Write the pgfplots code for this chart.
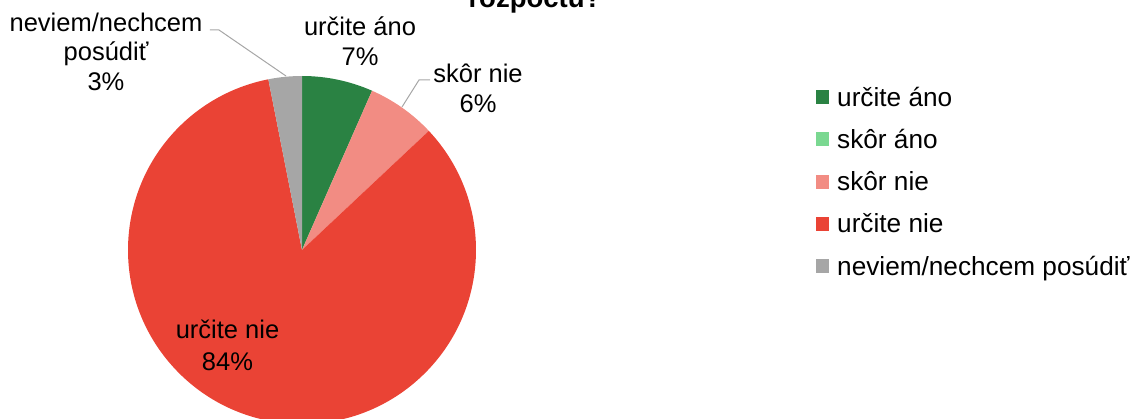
\documentclass[border=0pt]{standalone}
\usepackage{fontspec}
\setmainfont{Liberation Sans}
\usepackage{pgfplots}
\usepackage{pgfplotstable}
\pgfplotsset{compat=1.18}

\definecolor{cA}{HTML}{2A8243}
\definecolor{cB}{HTML}{7AD891}
\definecolor{cC}{HTML}{F28C83}
\definecolor{cD}{HTML}{EA4335}
\definecolor{cE}{HTML}{A6A6A6}

% shares in percent, clockwise from 12 o'clock
\pgfplotstableread{
share
6.6
0
6.4
83.9
3.1
}\piedata

\newcommand\slice[3]{\fill[#3] (axis cs:0,0) -- ([shift={(#1:174bp)}]axis cs:0,0)
  arc[start angle=#1, end angle=#2, radius=174bp] -- cycle;}

\begin{document}
\begin{tikzpicture}[lab/.style={font=\fontsize{25.5bp}{30bp}\selectfont, anchor=base, inner sep=0pt}]
\pgfplotstablegetelem{0}{share}\of\piedata \pgfmathsetmacro\aB{90-3.6*\pgfplotsretval}
\pgfplotstablegetelem{1}{share}\of\piedata \pgfmathsetmacro\aC{\aB-3.6*\pgfplotsretval}
\pgfplotstablegetelem{2}{share}\of\piedata \pgfmathsetmacro\aD{\aC-3.6*\pgfplotsretval}
\pgfplotstablegetelem{3}{share}\of\piedata \pgfmathsetmacro\aE{\aD-3.6*\pgfplotsretval}
\path[use as bounding box] (0,0) rectangle (1132bp,419bp);
\clip (0,0) rectangle (1132bp,419bp);
\begin{axis}[
    at={(302bp,169bp)}, anchor=origin,
    x=1bp, y=1bp, disabledatascaling,
    xmin=-180, xmax=180, ymin=-180, ymax=180,
    hide axis, clip=false,
    legend image code/.code={\fill[#1, draw=none] (0bp,2bp) rectangle (13bp,16bp); \path (21bp,0bp);},
    legend style={draw=none, fill=none, inner sep=0pt, outer sep=0pt,
      at={(axis cs:514,164)}, anchor=north west, row sep=16.25bp,
      font=\fontsize{26.2bp}{30bp}\selectfont,
      cells={anchor=base west},
      nodes={inner sep=0pt, text height=20bp, text depth=6bp}},
]
\slice{90}{\aB}{cA}
\slice{\aB}{\aC}{cB}
\slice{\aC}{\aD}{cC}
\slice{\aD}{\aE}{cD}
\slice{\aE}{-270}{cE}

\draw[cE, line width=1bp] (axis cs:-92,220) -- (axis cs:-83,220) -- (axis cs:-16,174);
\draw[cE, line width=1bp] (axis cs:128,170) -- (axis cs:117,170) -- (axis cs:100,143);

\node[lab] at (axis cs:-196,219) {neviem/nechcem};
\node[lab] at (axis cs:-196,190) {posúdiť};
\node[lab] at (axis cs:-196,160) {3\%};
\node[lab] at (axis cs:58,215) {určite áno};
\node[lab] at (axis cs:58,185) {7\%};
\node[lab] at (axis cs:176,168) {skôr nie};
\node[lab] at (axis cs:176,138) {6\%};
\node[lab] at (axis cs:-74.5,-88) {určite nie};
\node[lab] at (axis cs:-74.5,-120) {84\%};
\node[lab, font=\fontsize{27.5bp}{32bp}\selectfont\bfseries] at (axis cs:233,243) {rozpočtu?};

\addlegendimage{fill=cA}\addlegendentry{určite áno}
\addlegendimage{fill=cB}\addlegendentry{skôr áno}
\addlegendimage{fill=cC}\addlegendentry{skôr nie}
\addlegendimage{fill=cD}\addlegendentry{určite nie}
\addlegendimage{fill=cE}\addlegendentry{neviem/nechcem posúdiť}
\end{axis}
\end{tikzpicture}
\end{document}
